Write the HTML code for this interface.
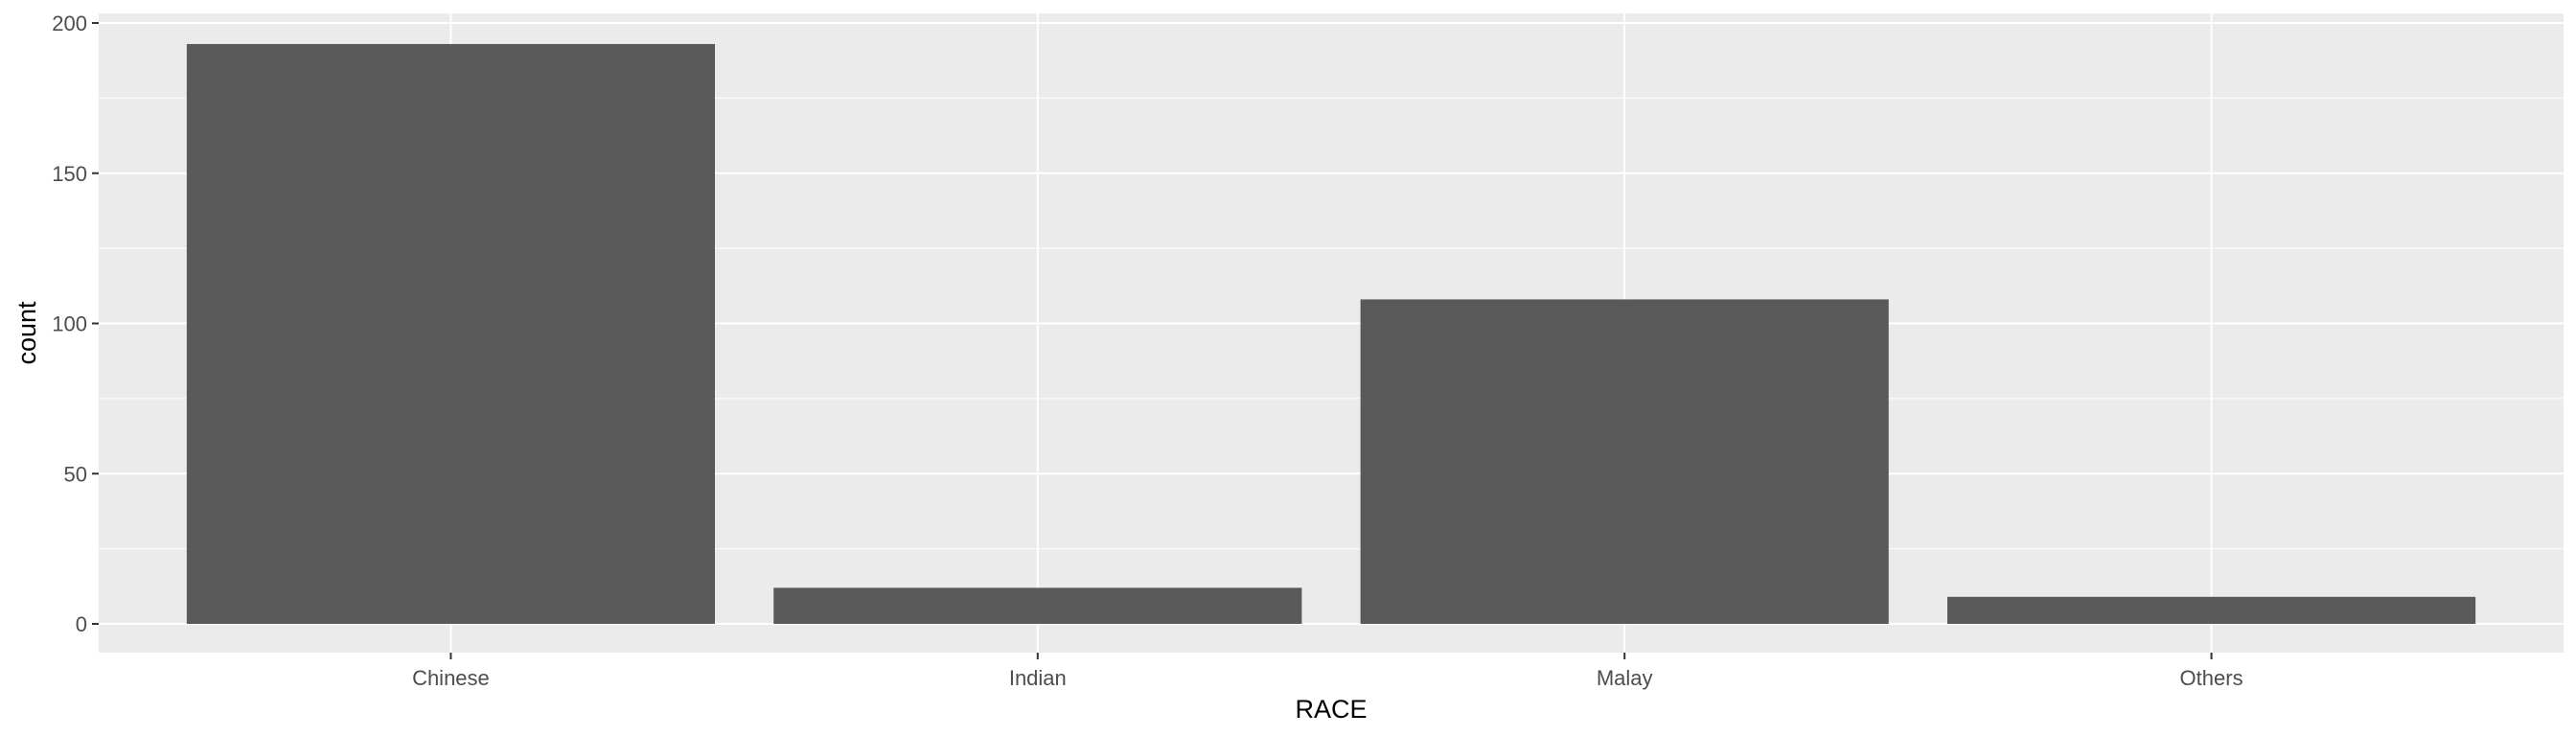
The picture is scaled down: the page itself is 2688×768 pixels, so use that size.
<!DOCTYPE html>
<html><head><meta charset="utf-8"><style>
html,body{margin:0;padding:0;background:#fff;}
svg{display:block;font-family:"Liberation Sans",Arial,sans-serif;}
</style></head><body>
<svg id="chart" width="2688" height="768"></svg>
<script>
const categories = ["Chinese","Indian","Malay","Others"];
const counts = [193, 12, 108, 9];
const yTicks = [0, 50, 100, 150, 200];

const NS = "http://www.w3.org/2000/svg";
const svg = document.getElementById("chart");
const P = {l:103, r:2675, t:14, b:681};
const y0px = 651, y200px = 24;
function y(v){ return y0px + (y200px - y0px) * v / 200; }
const unit = (P.r - P.l) / (categories.length - 1 + 1.2);
function x(i){ return P.l + (0.6 + i) * unit; }
function mk(tag, attrs, parent){
  const e = document.createElementNS(NS, tag);
  for (const k in attrs) e.setAttribute(k, attrs[k]);
  (parent || svg).appendChild(e);
  return e;
}
const panel = mk("rect", {x:P.l, y:P.t, width:P.r-P.l, height:P.b-P.t, fill:"#ebebeb"});


for (let k = 0; k < yTicks.length - 1; k++) {
  const v = (yTicks[k] + yTicks[k+1]) / 2;
  const g = mk("line", {x1:P.l, x2:P.r, y1:y(v), y2:y(v), stroke:"#fff", "stroke-width":1});
  
  
}
yTicks.forEach(v => {
  const g = mk("line", {x1:P.l, x2:P.r, y1:y(v), y2:y(v), stroke:"#fff", "stroke-width":2});
  
  
  const t = mk("line", {x1:P.l-7, x2:P.l, y1:y(v), y2:y(v), stroke:"#333", "stroke-width":2});
  
  
  const lb = mk("text", {x:P.l-12, y:y(v)+8, "text-anchor":"end", "font-size":22, fill:"#4d4d4d"});
  lb.textContent = v;
  
  
});
categories.forEach((c, i) => {
  const g = mk("line", {x1:x(i), x2:x(i), y1:P.t, y2:P.b, stroke:"#fff", "stroke-width":2});
  
  
});
categories.forEach((c, i) => {
  const w = 0.9 * unit;
  const b = mk("rect", {x:x(i)-w/2, y:y(counts[i]), width:w, height:y(0)-y(counts[i]), fill:"#595959"});
  
  
  const t = mk("line", {x1:x(i), x2:x(i), y1:P.b, y2:P.b+7, stroke:"#333", "stroke-width":2});
  
  
  const lb = mk("text", {x:x(i), y:P.b+34, "text-anchor":"middle", "font-size":22, fill:"#4d4d4d"});
  lb.textContent = c;
  
  
});
const xt = mk("text", {x:(P.l+P.r)/2, y:749, "text-anchor":"middle", "font-size":27, fill:"#000"});
xt.textContent = "RACE";


const yt = mk("text", {x:0, y:0, "text-anchor":"middle", "font-size":27, fill:"#000", transform:"translate(37," + ((P.t+P.b)/2) + ") rotate(-90)"});
yt.textContent = "count";


</script>
</body></html>
